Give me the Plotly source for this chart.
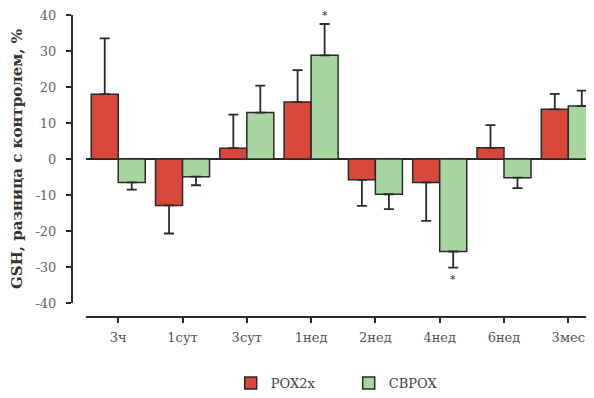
import plotly.graph_objects as go

categories = ["3ч", "1сут", "3сут", "1нед", "2нед", "4нед", "6нед", "3мес"]
pox_values = [18.0, -12.9, 3.0, 15.8, -5.8, -6.5, 3.1, 13.8]
pox_err = [15.5, 7.8, 9.3, 8.9, 7.2, 10.7, 6.3, 4.3]
cbpox_values = [-6.5, -4.9, 12.9, 28.8, -9.8, -25.7, -5.2, 14.7]
cbpox_err = [2.0, 2.4, 7.5, 8.7, 4.1, 4.5, 2.9, 4.3]
series_names = ["РОХ2х", "СВРОХ"]
y_ticks = [-40, -30, -20, -10, 0, 10, 20, 30, 40]
y_ticktext = ["-40", "-30", "-20", "-10", "0", "10", "20", "30", "40"]

RED = "#d9473a"
GREEN = "#a8d6a0"
DARK = "#2a2a2a"
FONT = "DejaVu Serif, Liberation Serif, serif"


def up(vals, errs):
    return [e if v >= 0 else 0 for v, e in zip(vals, errs)]


def down(vals, errs):
    return [e if v < 0 else 0 for v, e in zip(vals, errs)]


fig = go.Figure()
for name, vals, errs, col in [
    (series_names[0], pox_values, pox_err, RED),
    (series_names[1], cbpox_values, cbpox_err, GREEN),
]:
    fig.add_trace(go.Bar(
        x=categories, y=vals, name=name,
        marker=dict(color=col, line=dict(color=DARK, width=1.5)),
        error_y=dict(type="data", symmetric=False, array=up(vals, errs),
                     arrayminus=down(vals, errs), color=DARK, thickness=1.8, width=5),
    ))

# significance marks
fig.add_annotation(x=categories[3], y=cbpox_values[3] + cbpox_err[3], xshift=13.5, yshift=9,
                   text="*", showarrow=False, font=dict(family=FONT, size=11, color="#333"))
fig.add_annotation(x=categories[5], y=cbpox_values[5] - cbpox_err[5], xshift=13.5, yshift=-12,
                   text="*", showarrow=False, font=dict(family=FONT, size=11, color="#333"))

# page body has an 8px default margin, so the figure is 8px smaller than the window
fig.update_layout(
    width=586, height=390,
    margin=dict(l=64, r=0, t=7, b=81),
    paper_bgcolor="white", plot_bgcolor="white",
    barmode="group", bargap=0.16, bargroupgap=0,
    font=dict(family=FONT, size=13, color="#555"),
    showlegend=True,
    legend=dict(orientation="h", x=0.304, y=-0.22, xanchor="left", yanchor="middle",
                font=dict(family=FONT, size=13, color="#444"),
                itemwidth=30, entrywidth=73, traceorder="normal"),
    xaxis=dict(
        domain=[0.027, 1], anchor="free", position=0,
        range=[-0.5, 7.4], showline=True, linecolor=DARK, linewidth=2,
        ticks="outside", ticklen=5, tickwidth=2, tickcolor=DARK,
        showgrid=False, zeroline=False, automargin=False, ticklabelstandoff=3,
        tickfont=dict(family=FONT, size=13, color="#555"),
    ),
    yaxis=dict(
        domain=[0.0464, 1], anchor="free", position=0,
        range=[-40, 40], tickvals=y_ticks, ticktext=y_ticktext,
        showline=True, linecolor=DARK, linewidth=2,
        ticks="outside", ticklen=5, tickwidth=2, tickcolor=DARK,
        showgrid=False, zeroline=True, zerolinecolor=DARK, zerolinewidth=1.5,
        automargin=False, ticklabelstandoff=7, ticklabeloverflow="allow",
        tickfont=dict(family=FONT, size=13, color="#666"),
        title=dict(text="<b>GSH, разница с контролем, %</b>", standoff=14,
                   font=dict(family=FONT, size=15, color="#333")),
    ),
)

fig.write_html("out.html")
